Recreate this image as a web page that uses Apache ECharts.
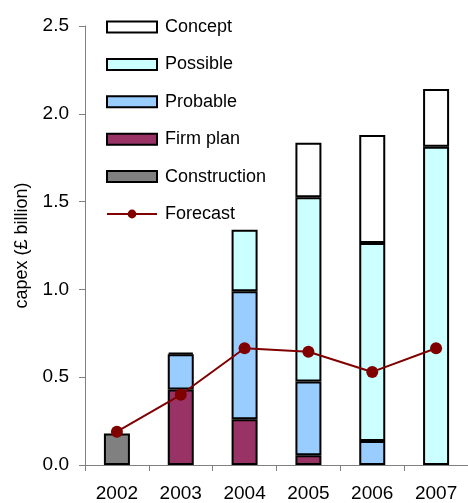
<!DOCTYPE html>
<html>
<head>
<meta charset="utf-8">
<script src="https://cdn.jsdelivr.net/npm/echarts@6/dist/echarts.min.js"></script>
<style>
  html, body { margin: 0; padding: 0; background: #fff; }
  #chart { width: 468px; height: 503px; }
</style>
</head>
<body>
<div id="chart"></div>
<script>
// Capital expenditure by project stage, £ billion
const years = ['2002', '2003', '2004', '2005', '2006', '2007'];
const construction = [0.18, null, null, null, null, null];
const firmPlan = [null, 0.43, 0.26, 0.055, null, null];
const probable = [null, 0.2, 0.73, 0.42, 0.137, null];
const possible = [null, 0.01, 0.35, 1.05, 1.127, 1.813];
const concept = [null, null, null, 0.31, 0.615, 0.328];
const forecast = [0.19, 0.40, 0.665, 0.645, 0.53, 0.665];
const yTicks = [0, 0.5, 1.0, 1.5, 2.0, 2.5];

const font = 'Liberation Sans, Arial, sans-serif';

function stackBar(name, data, color) {
  return {
    name: name,
    type: 'bar',
    stack: 'capex',
    data: data,
    barWidth: 26,
    itemStyle: { color: color, borderColor: '#000', borderWidth: 2 }
  };
}

const chart = echarts.init(document.getElementById('chart'), null, { renderer: 'canvas' });
chart.setOption({
  animation: false,
  backgroundColor: '#fff',
  grid: { left: 85, right: 0, top: 26, bottom: 38, containLabel: false },
  legend: {
    orient: 'vertical',
    left: 106,
    top: 17,
    padding: 0,
    itemWidth: 50,
    itemHeight: 11,
    itemGap: 17.4,
    textStyle: { fontFamily: font, fontSize: 18, color: '#000', lineHeight: 20, padding: [0, 0, 0, 3] },
    data: [
      { name: 'Concept', icon: 'rect' },
      { name: 'Possible', icon: 'rect' },
      { name: 'Probable', icon: 'rect' },
      { name: 'Firm plan', icon: 'rect' },
      { name: 'Construction', icon: 'rect' },
      { name: 'Forecast' }
    ]
  },
  xAxis: {
    type: 'category',
    data: years,
    axisLine: { lineStyle: { color: '#808080', width: 1 } },
    axisTick: { show: true, length: 6, lineStyle: { color: '#808080' } },
    axisLabel: { fontFamily: font, fontSize: 19, color: '#000', margin: 19 }
  },
  yAxis: {
    type: 'value',
    min: yTicks[0],
    max: yTicks[yTicks.length - 1],
    interval: 0.5,
    name: 'capex (£ billion)',
    nameLocation: 'middle',
    nameRotate: 90,
    nameGap: 54,
    nameTextStyle: { fontFamily: font, fontSize: 18, color: '#000' },
    splitLine: { show: false },
    axisLine: { show: true, lineStyle: { color: '#808080', width: 1 } },
    axisTick: { show: true, length: 6, lineStyle: { color: '#808080' } },
    axisLabel: {
      fontFamily: font, fontSize: 19, color: '#000', margin: 16,
      formatter: v => v.toFixed(1)
    }
  },
  series: [
    stackBar('Construction', construction, '#808080'),
    stackBar('Firm plan', firmPlan, '#993366'),
    stackBar('Probable', probable, '#99CCFF'),
    stackBar('Possible', possible, '#CCFFFF'),
    stackBar('Concept', concept, '#FFFFFF'),
    {
      name: 'Forecast',
      type: 'line',
      data: forecast,
      symbol: 'circle',
      symbolSize: 12,
      z: 5,
      lineStyle: { color: '#800000', width: 2 },
      itemStyle: { color: '#800000' }
    }
  ]
});
</script>
</body>
</html>
